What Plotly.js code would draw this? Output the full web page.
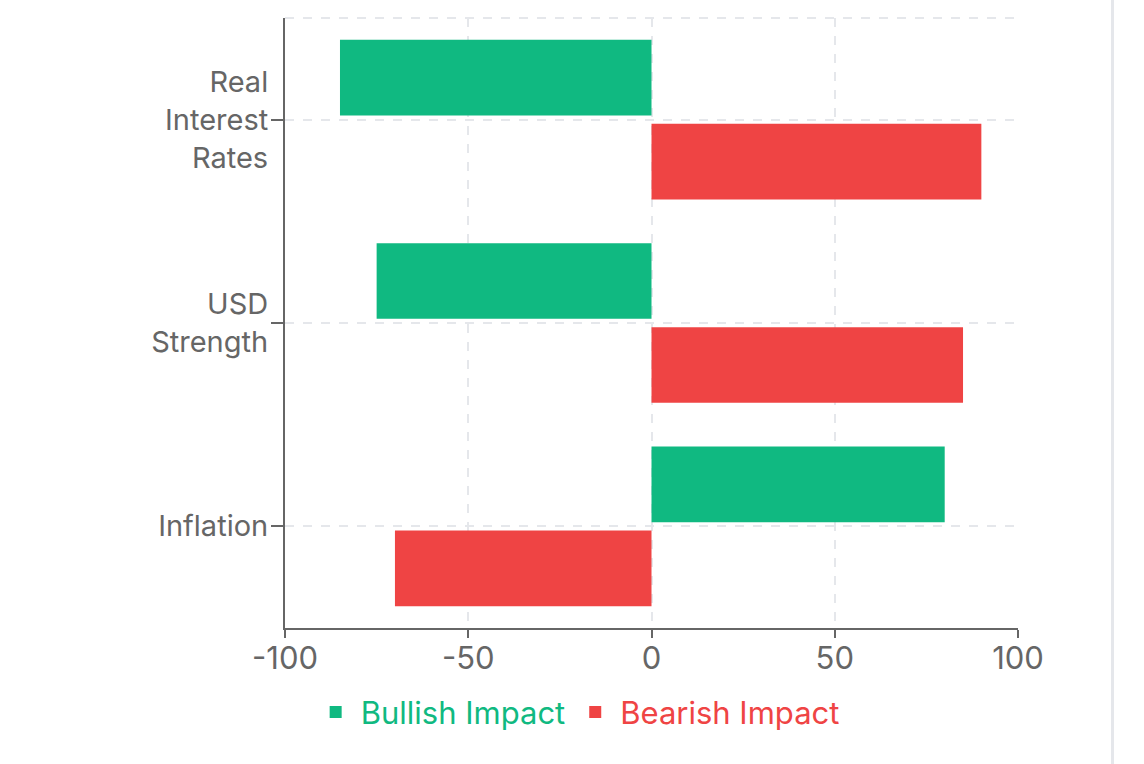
<!DOCTYPE html>
<html>
<head>
<meta charset="utf-8">
<script src="https://cdn.plot.ly/plotly-3.0.1.min.js"></script>
<style>
  html, body { margin: 0; padding: 0; background: #fff; }
  #wrap { width: 1111px; height: 764px; border-right: 3px solid #e5e7eb; }
  #plotElement { width: 1111px; height: 764px; }
</style>
</head>
<body>
<div id="wrap"><div id="plotElement"></div></div>
<script>
// categories, top to bottom
const categories = ['Real Interest Rates', 'USD Strength', 'Inflation'];
const tickLabels = ['Real<br>Interest<br>Rates', 'USD<br>Strength', 'Inflation'];

const seriesNames = ['Bullish Impact', 'Bearish Impact'];
const seriesColors = ['#10b981', '#ef4444'];
const bullishValues = [-85, -75, 80];
const bearishValues = [90, 85, -70];

const xTicks = [-100, -50, 0, 50, 100];

const values = [bullishValues, bearishValues];
const data = values.map((v, i) => ({
    type: 'bar',
    orientation: 'h',
    y: categories,
    x: v,
    name: '<span style="color:' + seriesColors[i] + '">' + seriesNames[i] + '</span>',
    marker: { color: seriesColors[i], line: { width: 0 } },
    hoverinfo: 'x+y'
}));

const gridColor = '#e5e7eb';
const axisColor = '#666666';

const layout = {
    width: 1111,
    height: 764,
    margin: { l: 285, r: 93, t: 18, b: 136 },
    paper_bgcolor: '#ffffff',
    plot_bgcolor: '#ffffff',
    font: { family: 'Inter, "Noto Sans", sans-serif', size: 29, color: axisColor },
    barmode: 'group',
    bargap: 0.173,
    bargroupgap: 0.1,
    showlegend: true,
    legend: {
        orientation: 'h',
        x: 0.035, xanchor: 'left',
        y: -0.094, yanchor: 'top',
        itemwidth: 40,
        font: { size: 31 },
        itemclick: false
    },
    xaxis: {
        range: [-100, 100],
        tickvals: xTicks,
        ticktext: xTicks.map(String),
        showline: true, linecolor: axisColor, linewidth: 2,
        ticks: 'outside', ticklen: 8, tickwidth: 2, tickcolor: axisColor,
        ticklabelstandoff: -6,
        showgrid: true, gridcolor: gridColor, gridwidth: 2, griddash: 'dash',
        zeroline: false,
        tickfont: { size: 31 },
        fixedrange: true
    },
    yaxis: {
        type: 'category',
        autorange: 'reversed',
        tickvals: categories,
        ticktext: tickLabels,
        showline: true, linecolor: axisColor, linewidth: 2,
        ticks: 'outside', ticklen: 12, tickwidth: 2, tickcolor: axisColor,
        ticklabelstandoff: -3,
        showgrid: true, gridcolor: gridColor, gridwidth: 2, griddash: 'dash',
        zeroline: false,
        tickfont: { size: 29 },
        fixedrange: true
    },
    shapes: [{
        type: 'line', xref: 'x domain', yref: 'y domain',
        x0: 0, x1: 1, y0: 1, y1: 1,
        line: { color: gridColor, width: 2, dash: 'dash' },
        layer: 'below'
    }]
};

Plotly.newPlot('plotElement', data, layout, { displayModeBar: false });
</script>
</body>
</html>
